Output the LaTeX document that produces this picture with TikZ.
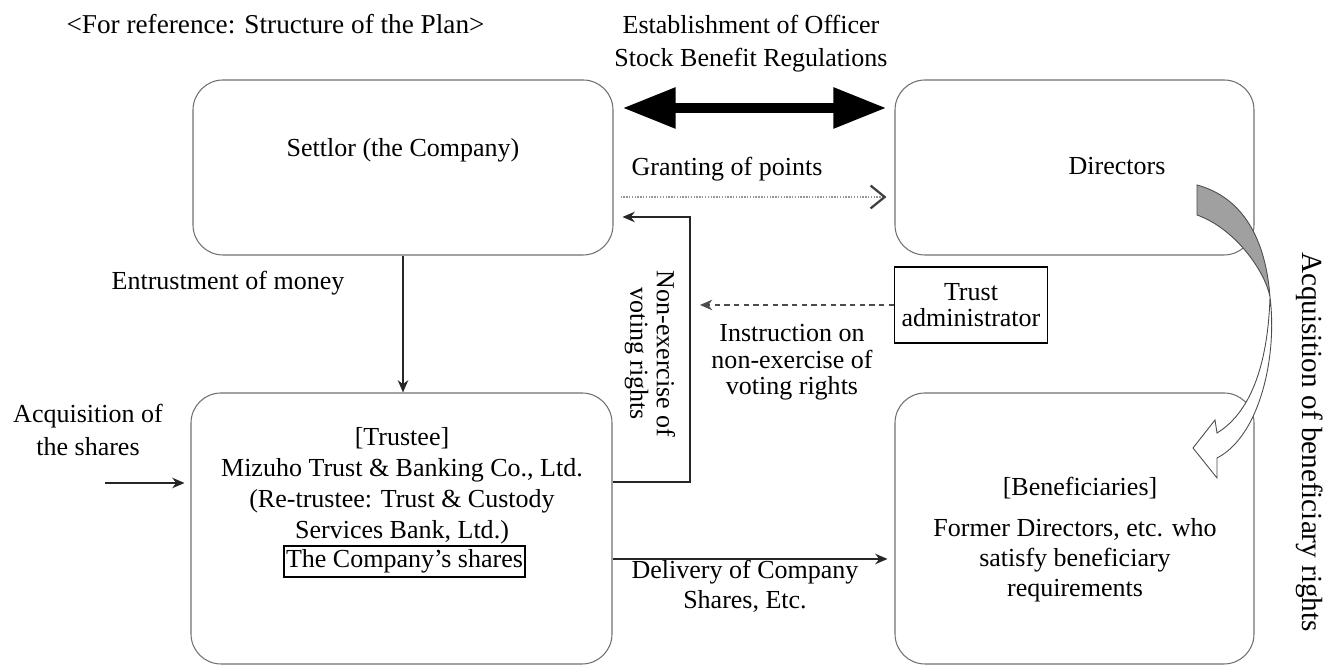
\documentclass[tikz,border=0pt]{standalone}
\usepackage{fontspec}
\setmainfont{Liberation Serif}
\usetikzlibrary{arrows.meta,calc,positioning}
\definecolor{boxGray}{RGB}{112,112,112}
\definecolor{bandGray}{RGB}{160,160,160}
\definecolor{dotGray}{RGB}{150,150,150}

\begin{document}
\begin{tikzpicture}[
  font=\fontsize{14.8}{17}\selectfont,
  planbox/.style={draw=boxGray, line width=0.6pt, rectangle, rounded corners=0.6cm, inner sep=0pt},
  txt/.style={align=center, inner sep=0pt},
  tight/.style={font=\fontsize{14.8}{15}\selectfont},
  arr/.style={-{Stealth[length=7pt,width=6pt]}, line width=0.7pt, black!85},
  dasharr/.style={-{Stealth[length=7pt,width=6pt]}, line width=0.7pt, black!70, dash pattern=on 3pt off 2.5pt},
  dotarr/.style={-{Straight Barb[length=8pt,width=13pt,line width=1.3pt,color=black!75]}, line width=1.6pt, dotGray, dash pattern=on 0.8pt off 0.8pt},
  bigarr/.style={{Triangle[length=1.06cm,width=0.77cm]}-{Triangle[length=1.06cm,width=0.77cm]}, line width=5.7pt, black}]
  \useasboundingbox (0,0) rectangle (26.66,13.32);

  % boxes
  \node[planbox, minimum width=8.4cm, minimum height=3.5cm] (settlor) at (8.06,9.97) {};
  \node[planbox, minimum width=7.18cm, minimum height=3.5cm] (directors) at (21.49,9.97) {};
  \node[planbox, minimum width=8.42cm, minimum height=5.42cm] (trustee) at (8.03,2.75) {};
  \node[planbox, minimum width=7.18cm, minimum height=5.42cm] (beneficiaries) at (21.49,2.75) {};
  \node[draw, line width=0.6pt, align=center, tight, minimum width=3.06cm, minimum height=1.52cm, inner sep=0pt] (admin) at (19.42,7.22) {Trust\\administrator};

  % texts
  \node[txt, font=\fontsize{15.5}{17}\selectfont] (title) at (5.51,12.84) {<For reference: Structure of the Plan>};
  \node[txt, font=\fontsize{14.8}{18.7}\selectfont] (regs) at (15.02,12.45) {Establishment of Officer\\Stock Benefit Regulations};
  \node[txt] (settlortext) at (8.06,10.32) {Settlor (the Company)};
  \node[txt] (directorstext) at (22.34,10.0) {Directors};
  \node[txt] (granting) at (14.54,9.94) {Granting of points};
  \node[txt] (entrust) at (4.56,7.66) {Entrustment of money};
  \node[txt, font=\fontsize{14.8}{19}\selectfont] (acqshares) at (1.76,4.72) {Acquisition of\\the shares};
  \node[txt, tight, rotate=-90] (nonexlabel) at (13.0,6.24) {Non-exercise of\\voting rights};
  \node[txt, tight] (instr) at (15.84,6.07) {Instruction on\\non-exercise of\\voting rights};
  \node[txt, font=\fontsize{14.8}{17.6}\selectfont] (trusteetext) at (8.04,3.6) {[Trustee]\\Mizuho Trust \& Banking Co., Ltd.\\(Re-trustee: Trust \& Custody\\Services Bank, Ltd.)};
  \node[draw, line width=0.9pt, inner xsep=1pt, inner ysep=2pt] (shares) at (8.09,2.09) {The Company's shares};
  \node[txt] (delivery) at (14.9,1.6) {Delivery of Company\\Shares, Etc.};
  \node[txt] (benefhead) at (21.6,3.55) {[Beneficiaries]};
  \node[txt] (beneftext) at (21.5,2.12) {Former Directors, etc. who\\satisfy beneficiary\\requirements};
  \node[txt, font=\fontsize{16.6}{17}\selectfont, rotate=-90] (acqrights) at (26.2,4.48) {Acquisition of beneficiary rights};

  % connectors
  \coordinate (nonexbend) at (13.8,8.98);
  \coordinate (instrend) at (14.0,7.22);
  \coordinate (acqstart) at (2.1,3.66);
  \draw[bigarr] ([shift={(0.18,1.19)}]settlor.east) -- ([shift={(-0.16,1.19)}]directors.west);
  \draw[dotarr] ([shift={(0.14,-0.59)}]settlor.east) -- ([shift={(-0.16,-0.59)}]directors.west);
  \draw[arr] ([yshift=0.93cm]trustee.east) -| (nonexbend) -- ($(nonexbend -| settlor.east)+(0.18,0)$);
  \draw[dasharr] (admin.west) -- (instrend);
  \draw[arr] (settlor.south) -- (settlor.south |- trustee.north);
  \draw[arr] (acqstart) -- ($(acqstart -| trustee.west)+(-0.12,0)$);
  \draw[arr] ([yshift=-0.61cm]trustee.east) -- ([shift={(-0.14,-0.61)}]beneficiaries.west);

  % twisted arrow from directors to beneficiaries
  \filldraw[fill=bandGray, draw=black!70, line width=0.5pt] (23.94,9.62) .. controls (24.75,9.4) and (25.3,8.7) .. (25.40,7.38)
    .. controls (25.3,7.9) and (24.7,8.75) .. (23.94,9.02) -- cycle;
  \filldraw[fill=white, draw=black!70, line width=0.5pt] (25.40,7.38) .. controls (25.55,6.2) and (25.2,4.6) .. (24.34,4.16)
    -- (24.34,3.76) -- (23.86,4.36) -- (24.30,4.92) -- (24.34,4.66)
    .. controls (24.9,5.0) and (25.35,5.8) .. (25.40,7.38) -- cycle;
\end{tikzpicture}
\end{document}
